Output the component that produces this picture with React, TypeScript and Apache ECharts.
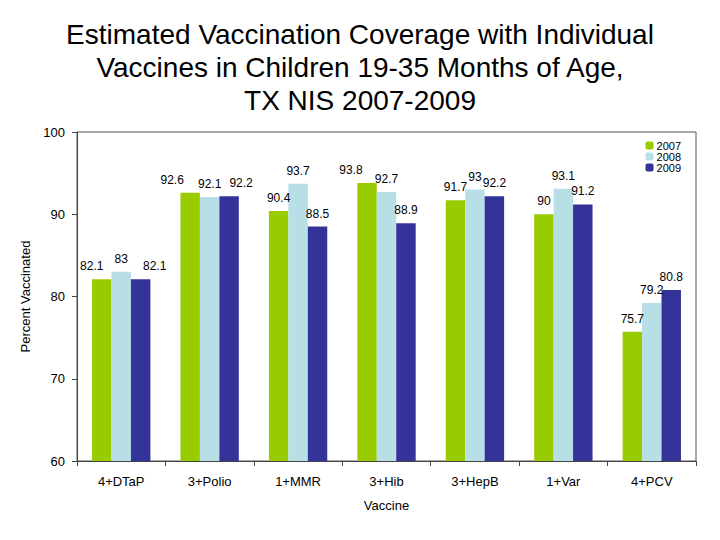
import { useEffect, useRef } from "react";
import * as echarts from "echarts";

const CATEGORIES = ["4+DTaP", "3+Polio", "1+MMR", "3+Hib", "3+HepB", "1+Var", "4+PCV"];
const Y2007 = [82.1, 92.6, 90.4, 93.8, 91.7, 90, 75.7];
const Y2008 = [83, 92.1, 93.7, 92.7, 93, 93.1, 79.2];
const Y2009 = [82.1, 92.2, 88.5, 88.9, 92.2, 91.2, 80.8];

const COLORS = {
  y2007: "#99cc00",
  y2008: "#b9dfe6",
  y2009: "#333399",
};

// horizontal nudges of a few value labels, as in the original slide
const LABEL_DX_2007 = [-10, -18, 0, -16, 0, 0, 0];
const LABEL_DX_2009 = [14, 12, 0, 0, 0, 0, 0];

const FONT = "Liberation Sans, Arial, sans-serif";

function withLabelDx(values: number[], dx: number[] | null) {
  return values.map((v, i) =>
    dx && dx[i] ? { value: v, label: { offset: [dx[i], 0] } } : v
  );
}

export default function App() {
  const ref = useRef<HTMLDivElement>(null);

  useEffect(() => {
    if (!ref.current) return;
    const chart = echarts.init(ref.current, undefined, { renderer: "svg" });

    const label = {
      show: true,
      position: "top" as const,
      distance: 7,
      color: "#000",
      fontSize: 12,
      fontFamily: FONT,
    };
    const bar = { type: "bar" as const, barGap: "0%", barCategoryGap: "34%", label };

    chart.setOption({
      animation: false,
      backgroundColor: "#fff",
      textStyle: { fontFamily: FONT },
      title: {
        text: "Estimated Vaccination Coverage with Individual\nVaccines in Children 19-35 Months of Age,\nTX NIS 2007-2009",
        left: "center",
        top: 13,
        textStyle: { fontSize: 28, fontWeight: "normal", color: "#000", lineHeight: 33, fontFamily: FONT },
      },
      legend: {
        orient: "vertical",
        right: 34,
        top: 135,
        itemWidth: 8,
        itemHeight: 8,
        itemGap: 0,
        textStyle: { fontSize: 11, lineHeight: 11, color: "#000", padding: [0, 0, 0, -2] },
        data: ["2007", "2008", "2009"],
      },
      grid: {
        left: 77,
        right: 24,
        top: 132,
        bottom: 79,
        show: true,
        borderColor: "#555",
        borderWidth: 1,
      },
      xAxis: {
        type: "category",
        data: CATEGORIES,
        name: "Vaccine",
        nameLocation: "middle",
        nameGap: 38,
        nameTextStyle: { fontSize: 13, color: "#000" },
        axisLine: { lineStyle: { color: "#444" } },
        axisTick: { show: true, length: 5, lineStyle: { color: "#444" } },
        axisLabel: { fontSize: 13, color: "#000", margin: 14 },
      },
      yAxis: {
        type: "value",
        min: 60,
        max: 100,
        interval: 10,
        name: "Percent Vaccinated",
        nameLocation: "middle",
        nameGap: 40,
        nameTextStyle: { fontSize: 13, color: "#000" },
        axisLine: { show: true, lineStyle: { color: "#444" } },
        axisTick: { show: true, length: 5, lineStyle: { color: "#444" } },
        axisLabel: { fontSize: 13, color: "#000", margin: 12 },
        splitLine: { show: false },
      },
      series: [
        { ...bar, name: "2007", data: withLabelDx(Y2007, LABEL_DX_2007), itemStyle: { color: COLORS.y2007 } },
        { ...bar, name: "2008", data: withLabelDx(Y2008, null), itemStyle: { color: COLORS.y2008 } },
        { ...bar, name: "2009", data: withLabelDx(Y2009, LABEL_DX_2009), itemStyle: { color: COLORS.y2009 } },
      ],
    });

    return () => chart.dispose();
  }, []);

  return <div ref={ref} style={{ position: "absolute", left: 0, top: 0, width: 720, height: 540 }} />;
}
